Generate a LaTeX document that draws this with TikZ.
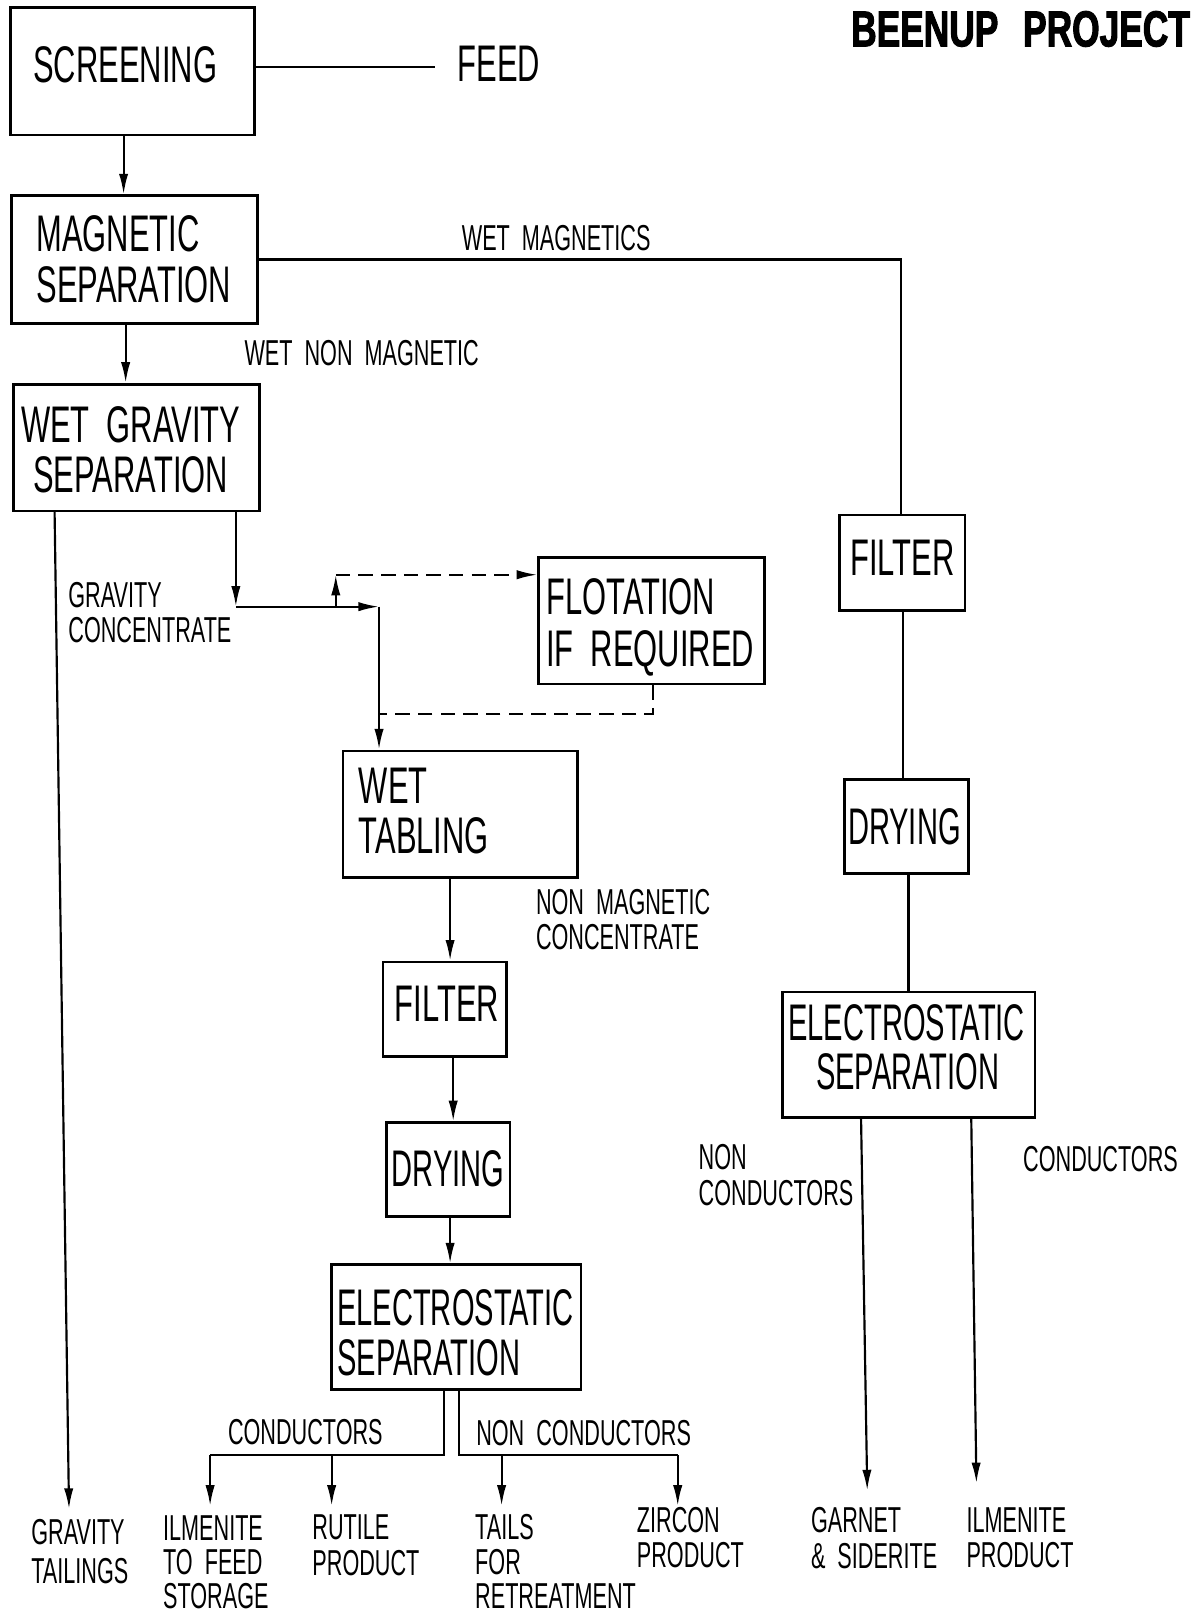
\documentclass[tikz,border=0pt]{standalone}
\usepackage{fontspec}
\usetikzlibrary{arrows.meta}
\newfontfamily\lf[FakeStretch=0.6,WordSpace=2]{Liberation Sans}
\newfontfamily\lfn[FakeStretch=0.565,WordSpace=2]{Liberation Sans}
\newfontfamily\tf[FakeStretch=0.7,WordSpace=2,FakeBold=2]{Liberation Sans}
\newcommand\mkbox[5]{\node[pbox, minimum width={(#4-#2)*0.5pt}, minimum height={(#5-#3)*0.5pt}] (#1) at ({(#2+#4)/2},{(#3+#5)/2}) {};}
\begin{document}
\begin{tikzpicture}[x=0.5pt,y=-0.5pt,
  pbox/.style={draw, line width=1.3pt, inner sep=0pt},
  big/.style={font=\lf\fontsize{25}{30}\selectfont, anchor=base west, inner sep=0pt},
  bign/.style={font=\lfn\fontsize{25}{30}\selectfont, anchor=base west, inner sep=0pt},
  sml/.style={font=\lf\fontsize{17.5}{21}\selectfont, anchor=base west, inner sep=0pt},
  conn/.style={line width=1.05pt},
  arr/.style={conn, -{Latex[length=10pt,width=4.5pt]}},
  dsh/.style={conn, dash pattern=on 7pt off 4pt}]
\useasboundingbox (0,0) rectangle (1161,1568);
\fill[white] (0,0) rectangle (1161,1568);

% title
\node[font=\tf\bfseries\fontsize{24.5}{29}\selectfont, anchor=base west, inner sep=0pt] (title) at (826,45) {BEENUP\hspace{12pt}PROJECT};

% boxes
\mkbox{screen}{10}{7}{247}{131}
\mkbox{mag}{11}{190}{250}{314}
\mkbox{wgrav}{13}{373}{252}{496}
\mkbox{flot}{523}{541}{742}{664}
\mkbox{wtab}{333}{729}{561}{852}
\mkbox{filtA}{372}{934}{492}{1026}
\mkbox{dryA}{375}{1090}{495}{1181}
\mkbox{esA}{322}{1228}{564}{1349}
\mkbox{filtB}{815}{500}{937}{593}
\mkbox{dryB}{820}{757}{940}{848}
\mkbox{esB}{760}{963}{1005}{1085}

% box texts
\node[big] (tscreen) at (32,80) {SCREENING};
\node[big] (tmag1) at (35,244) {MAGNETIC};
\node[big] (tmag2) at (35,294) {SEPARATION};
\node[big] (twg1) at (20,430) {WET GRAVITY};
\node[big] (twg2) at (32,478) {SEPARATION};
\node[big] (tfl1) at (530,597) {FLOTATION};
\node[big] (tfl2) at (530,647) {IF REQUIRED};
\node[big] (twt1) at (348,780) {WET};
\node[big] (twt2) at (348,829) {TABLING};
\node[big] (tfA) at (383,992) {FILTER};
\node[bign] (tdA) at (380,1152) {DRYING};
\node[bign] (teA1) at (327,1287) {ELECTROSTATIC};
\node[bign] (teA2) at (327,1335) {SEPARATION};
\node[big] (tfB) at (825,559) {FILTER};
\node[bign] (tdB) at (823,820) {DRYING};
\node[bign] (teB1) at (765,1010) {ELECTROSTATIC};
\node[bign] (teB2) at (792,1058) {SEPARATION};

% feed
\node[font=\lf\fontsize{25}{30}\selectfont, anchor=west, inner ysep=0pt, inner xsep=11pt] (feed) at (422,62) {FEED};
\coordinate (fy) at (0,65);
\draw[conn] (screen.east |- fy) -- (feed.west |- fy);

% labels
\node[sml] (lwm) at (448,243) {WET MAGNETICS};
\node[sml] (lwnm) at (237,355) {WET NON MAGNETIC};
\node[sml] (lgc1) at (66,590) {GRAVITY};
\node[sml] (lgc2) at (66,624) {CONCENTRATE};
\node[sml] (lnmc1) at (520,888) {NON MAGNETIC};
\node[sml] (lnmc2) at (520,922) {CONCENTRATE};
\node[sml] (lcA) at (221,1402) {CONDUCTORS};
\node[sml] (lncA) at (462,1403) {NON CONDUCTORS};
\node[sml] (lncB1) at (678,1135) {NON};
\node[sml] (lncB2) at (678,1170) {CONDUCTORS};
\node[sml] (lcB) at (993,1137) {CONDUCTORS};

% products
\node[sml] (pgt1) at (30,1500) {GRAVITY};
\node[sml] (pgt2) at (30,1537) {TAILINGS};
\node[sml] (pil1) at (158,1496) {ILMENITE};
\node[sml] (pil2) at (158,1529) {TO FEED};
\node[sml] (pil3) at (158,1562) {STORAGE};
\node[sml] (pru1) at (303,1495) {RUTILE};
\node[sml] (pru2) at (303,1530) {PRODUCT};
\node[sml] (pta1) at (461,1495) {TAILS};
\node[sml] (pta2) at (461,1529) {FOR};
\node[sml] (pta3) at (461,1562) {RETREATMENT};
\node[sml] (pzi1) at (618,1488) {ZIRCON};
\node[sml] (pzi2) at (618,1522) {PRODUCT};
\node[sml] (pga1) at (787,1488) {GARNET};
\node[sml] (pga2) at (787,1523) {\& SIDERITE};
\node[sml] (pib1) at (938,1488) {ILMENITE};
\node[sml] (pib2) at (938,1522) {PRODUCT};

% main column connectors
\coordinate (c1) at (120,0);
\coordinate (c2) at (122,0);
\draw[arr] (screen.south -| c1) -- (mag.north -| c1);
\draw[arr] (mag.south -| c2) -- (wgrav.north -| c2);

% wet magnetics to right column
\coordinate (cwm) at (875,0);
\draw[conn] (mag.east) -| (filtB.north -| cwm);
\coordinate (cf2) at (877,0);
\draw[conn] (filtB.south -| cf2) -- (dryB.north -| cf2);
\coordinate (cd2) at (882,0);
\draw[conn] (dryB.south -| cd2) -- (esB.north -| cd2);
\coordinate (cnb) at (836,0);
\coordinate (tnb) at (842,1447);
\draw[arr] (esB.south -| cnb) -- (tnb);
\coordinate (ccb) at (943,0);
\coordinate (tcb) at (948,1440);
\draw[arr] (esB.south -| ccb) -- (tcb);

% gravity tailings
\coordinate (cgt) at (53,0);
\coordinate (tgt) at (67,1465);
\draw[arr] (wgrav.south -| cgt) -- (tgt);

% gravity concentrate routing
\coordinate (cgc) at (229,0);
\coordinate (j1) at (229,589);
\coordinate (j2) at (368,589);
\coordinate (ju) at (326,589);
\coordinate (jd) at (326,558);
\coordinate (jr) at (368,693);
\coordinate (cfl) at (634,0);
\draw[arr] (wgrav.south -| cgc) -- (j1);
\draw[arr] (j1) -- (j2);
\draw[arr] (j2) -- (wtab.north -| j2);
\draw[arr] (ju) -- (jd);
\draw[dsh, -{Latex[length=10pt,width=4.5pt]}] (jd) -- (flot.west |- jd);
\draw[dsh] (flot.south -| cfl) |- (jr);

% middle column
\coordinate (m1) at (437,0);
\coordinate (m2) at (440,0);
\draw[arr] (wtab.south -| m1) -- (filtA.north -| m1);
\draw[arr] (filtA.south -| m2) -- (dryA.north -| m2);
\draw[arr] (dryA.south -| m1) -- (esA.north -| m1);

% splits below esA
\coordinate (sl) at (431,1413);
\coordinate (sr) at (446,1413);
\coordinate (a1) at (204,1413);
\coordinate (a2) at (322,1413);
\coordinate (a3) at (487,1413);
\coordinate (a4) at (658,1413);
\coordinate (e1) at (204,1462);
\coordinate (e2) at (322,1462);
\coordinate (e3) at (487,1462);
\coordinate (e4) at (658,1462);
\draw[conn] (esA.south -| sl) -- (sl) -- (a1);
\draw[conn] (esA.south -| sr) -- (sr) -- (a4);
\draw[arr] (a1) -- (e1);
\draw[arr] (a2) -- (e2);
\draw[arr] (a3) -- (e3);
\draw[arr] (a4) -- (e4);
\end{tikzpicture}
\end{document}
